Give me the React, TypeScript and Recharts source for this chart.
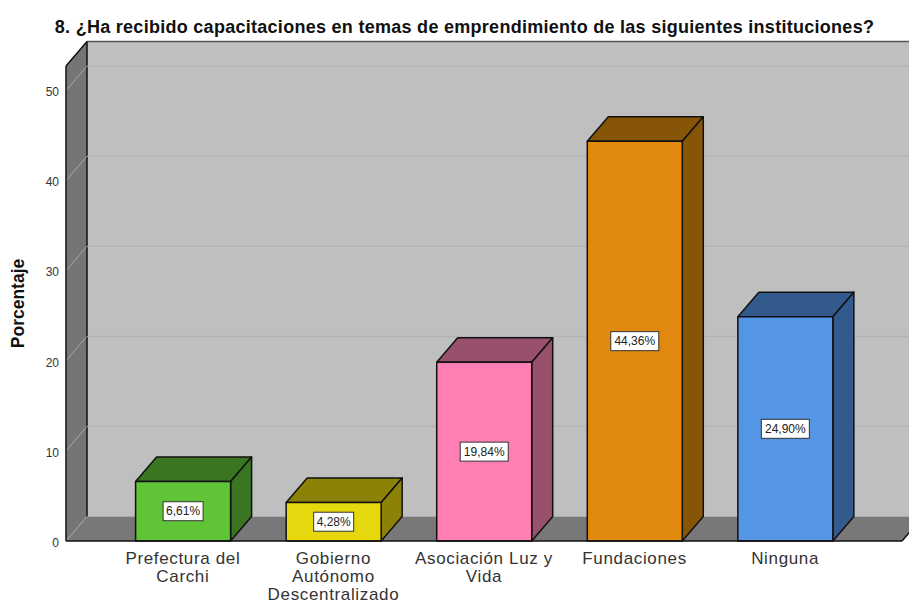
import { BarChart, Bar, XAxis, YAxis, ReferenceArea, ReferenceLine, LabelList } from "recharts";

const categories = ["Prefectura del Carchi", "Gobierno Autónomo Descentralizado", "Asociación Luz y Vida", "Fundaciones", "Ninguna"];
const tickLines = [["Prefectura del", "Carchi"], ["Gobierno", "Autónomo", "Descentralizado"], ["Asociación Luz y", "Vida"], ["Fundaciones"], ["Ninguna"]];
const percentages = [6.61, 4.28, 19.84, 44.36, 24.9];
const frontColors = ["#5fc536", "#e6d80f", "#ff7eb3", "#e0890e", "#5595e5"];
const sideColors = ["#3a7522", "#8c8207", "#99506c", "#875508", "#335a8c"];
const yTicks = [0, 10, 20, 30, 40, 50];
const yMax = 52.72;

const data = categories.map((name, i) => ({ name, value: percentages[i] }));

// depth of the fake 3d box
const DX = 21;
const DY = -24.5;
// the x axis padding, the walls have to reach past it
const PAD = 41.6;
const FONT = "'Liberation Sans', Arial, sans-serif";

function Walls(props: any) {
  const { y, height } = props;
  const x = props.x - PAD;
  const width = props.width + PAD * 2;
  const bottom = y + height;
  const right = x + width;
  return (
    <g>
      <rect x={x + DX} y={y + DY} width={width} height={height} fill="#bfbfbf" />
      <polygon points={`${x},${y} ${x + DX},${y + DY} ${x + DX},${bottom + DY} ${x},${bottom}`} fill="#757575" />
      <polygon points={`${x},${bottom} ${x + DX},${bottom + DY} ${right + DX},${bottom + DY} ${right},${bottom}`} fill="#787878" />
      <line x1={x + DX} y1={y + DY} x2={right + DX} y2={y + DY} stroke="#555" strokeWidth={1.5} />
      <line x1={x} y1={y} x2={x + DX} y2={y + DY} stroke="#111" strokeWidth={1.5} />
      <line x1={x + DX} y1={y + DY} x2={x + DX} y2={bottom + DY} stroke="#111" strokeWidth={1.5} />
      <line x1={right} y1={bottom} x2={right + DX} y2={bottom + DY} stroke="#111" strokeWidth={1.5} />
    </g>
  );
}

function GridShape(props: any) {
  const { x1, x2, y1 } = props;
  return (
    <g fill="none" strokeWidth={1}>
      <line x1={x1} y1={y1} x2={x1 + DX} y2={y1 + DY} stroke="#a8a8a8" />
      {y1 < 530 && <line x1={x1 + DX} y1={y1 + DY} x2={x2 + DX} y2={y1 + DY} stroke="#b0b0b0" />}
    </g>
  );
}

function Box3D(props: any) {
  const { x, y, width, height, index } = props;
  const r = x + width;
  const b = y + height;
  return (
    <g stroke="#111" strokeWidth={1.5} strokeLinejoin="round">
      <polygon points={`${x},${y} ${x + DX},${y + DY} ${r + DX},${y + DY} ${r},${y}`} fill={sideColors[index]} />
      <polygon points={`${r},${y} ${r + DX},${y + DY} ${r + DX},${b + DY} ${r},${b}`} fill={sideColors[index]} />
      <rect x={x} y={y} width={width} height={height} fill={frontColors[index]} />
    </g>
  );
}

function ValueLabel(props: any) {
  const { x, y, width, height, value } = props;
  const text = value.toFixed(2).replace(".", ",") + "%";
  const w = text.length > 5 ? 48 : 40;
  const cx = x + width / 2;
  const cy = y + height / 2;
  return (
    <g>
      <rect x={cx - w / 2} y={cy - 9.5} width={w} height={19} fill="#fff" stroke="#333" strokeWidth={1} />
      <text x={cx} y={cy + 4} textAnchor="middle" fontFamily={FONT} fontSize={12} fill="#222">{text}</text>
    </g>
  );
}

function CategoryTick(props: any) {
  const { x, y, index } = props;
  return (
    <text textAnchor="middle" fontFamily={FONT} fontSize={17} letterSpacing={0.65} fill="#333">
      {tickLines[index].map((line, i) => (
        <tspan key={line} x={x} y={y + 15 + i * 18}>{line}</tspan>
      ))}
    </text>
  );
}

export default function App() {
  return (
    <div style={{ position: "absolute", left: 0, top: 0, width: 909, height: 600, background: "#fff" }}>
      <BarChart width={909} height={600} data={data} margin={{ top: 66, right: 7, bottom: 0, left: 0 }}>
        <text x={464.5} y={33} textAnchor="middle" fontFamily={FONT} fontWeight="bold" fontSize={18} letterSpacing={0.28} fill="#111">
          8. ¿Ha recibido capacitaciones en temas de emprendimiento de las siguientes instituciones?
        </text>
        <ReferenceArea y1={0} y2={yMax} ifOverflow="visible" shape={Walls} zIndex={50} />
        {yTicks.map((t) => (
          <ReferenceLine key={t} y={t} shape={GridShape} ifOverflow="visible" zIndex={60} />
        ))}
        <XAxis
          dataKey="name"
          interval={0}
          padding={{ left: PAD, right: PAD }}
          height={59}
          tickLine={false}
          axisLine={{ stroke: "#111", strokeWidth: 1.5 }}
          tick={CategoryTick}
        />
        <YAxis
          width={66}
          domain={[0, yMax]}
          ticks={yTicks}
          tickLine={false}
          tickSize={0}
          tickMargin={7}
          axisLine={{ stroke: "#111", strokeWidth: 1.5 }}
          tick={{ fontFamily: FONT, fontSize: 12, fill: "#333", dy: 1.5 }}
          label={{
            value: "Porcentaje",
            angle: -90,
            position: "insideLeft",
            offset: 18,
            style: { fontFamily: FONT, fontWeight: "bold", fontSize: 17.5, fill: "#111", textAnchor: "middle" },
          }}
        />
        <Bar dataKey="value" barSize={95} shape={Box3D} isAnimationActive={false}>
          <LabelList dataKey="value" content={ValueLabel} />
        </Bar>
      </BarChart>
    </div>
  );
}
